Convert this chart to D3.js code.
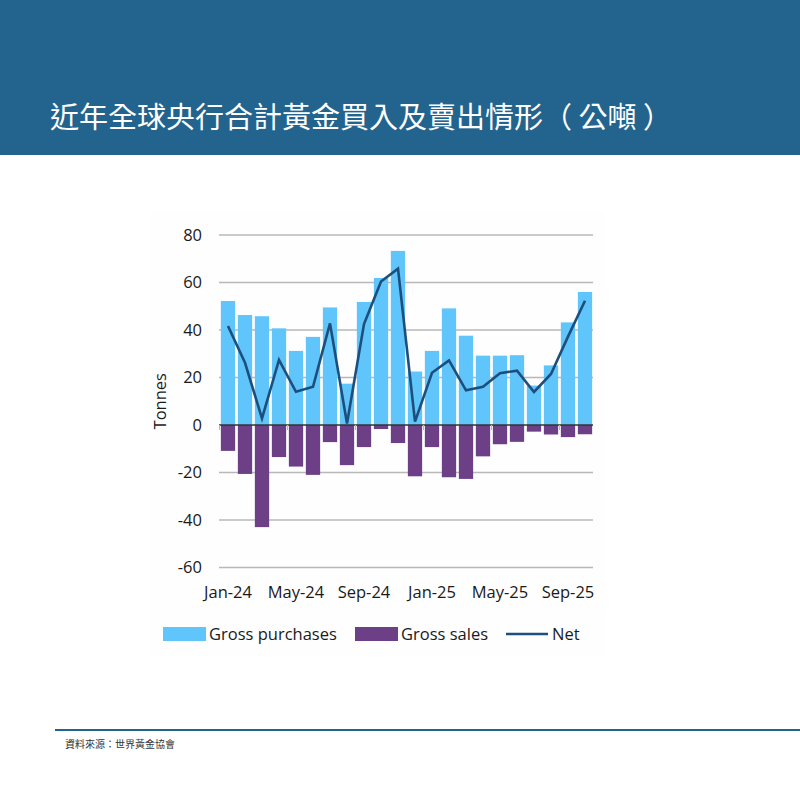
<!DOCTYPE html>
<html>
<head>
<meta charset="utf-8">
<script src="https://cdn.jsdelivr.net/npm/d3@7"></script>
<style>
  body { margin: 0; background: #fff; }
  svg { display: block; font-family: "Open Sans", "Noto Sans", sans-serif; }
</style>
</head>
<body>
<svg class="chart"></svg>
<script>
const width = 800;
const height = 800;

const months = [
  "Jan-24", "Feb-24", "Mar-24", "Apr-24", "May-24", "Jun-24", "Jul-24", "Aug-24",
  "Sep-24", "Oct-24", "Nov-24", "Dec-24", "Jan-25", "Feb-25", "Mar-25", "Apr-25",
  "May-25", "Jun-25", "Jul-25", "Aug-25", "Sep-25", "Oct-25"
];
const grossPurchases = [
  52.2, 46.3, 45.8, 40.7, 31.2, 37.1, 49.5, 17.4, 51.8, 61.9, 73.3,
  22.5, 31.2, 49.1, 37.6, 29.2, 29.2, 29.4, 16.6, 25.1, 43.2, 56.0
];
const grossSales = [
  -10.9, -20.6, -43.0, -13.5, -17.5, -21.0, -7.2, -16.9, -9.3, -1.7, -7.6,
  -21.6, -9.3, -22.0, -22.7, -13.2, -8.1, -7.1, -2.8, -4.0, -5.1, -3.9
];
const net = [
  41.7, 26.2, 2.8, 27.4, 14.0, 16.1, 42.8, 0.6, 42.5, 60.4, 65.8,
  1.4, 22.0, 27.2, 14.6, 16.1, 21.8, 22.9, 13.9, 21.5, 37.2, 52.3
];
const yTicks = [80, 60, 40, 20, 0, -20, -40, -60];
const xTickLabels = ["Jan-24", "May-24", "Sep-24", "Jan-25", "May-25", "Sep-25"];

const colors = { purchases: "#5fc5fb", sales: "#6d3f86", net: "#1d4f7c" };

const svg = d3.select(".chart").attr("width", width).attr("height", height);

// header band
svg.append("rect").attr("width", width).attr("height", 155).attr("fill", "#23648e");
svg.append("text")
  .attr("x", 50)
  .attr("y", 128)
  .attr("fill", "#fff")
  .attr("xml:space", "preserve")
  .style("white-space", "pre")
  .style("font-family", "'Noto Sans CJK TC', sans-serif")
  .style("font-size", "29px")
  .text("近年全球央行合計黃金買入及賣出情形（ 公噸 ）");

// faint chart panel
svg.append("rect")
  .attr("x", 150).attr("y", 212)
  .attr("width", 455).attr("height", 443)
  .attr("fill", "#fefefe");

const x = d3.scaleBand().domain(months).range([219.5, 593.5]).paddingInner(0.16).paddingOuter(0.08);
const y = d3.scaleLinear().domain([-60, 80]).range([567.5, 235]);

// gridlines
svg.append("g")
  .selectAll("line")
  .data(yTicks.filter((d) => d !== 0))
  .join("line")
  .attr("x1", 219).attr("x2", 593)
  .attr("y1", (d) => y(d)).attr("y2", (d) => y(d))
  .attr("stroke", "#b8b8b8")
  .attr("stroke-width", 1.5);

svg.append("g")
  .selectAll("text")
  .data(yTicks)
  .join("text")
  .attr("x", 202)
  .attr("y", (d) => y(d))
  .attr("dy", "0.35em")
  .attr("text-anchor", "end")
  .attr("fill", "#1a1a1a")
  .style("font-size", "16.5px")
  .text((d) => d);

svg.append("text")
  .attr("transform", `translate(166,${y(10)}) rotate(-90)`)
  .attr("text-anchor", "middle")
  .attr("fill", "#1a1a1a")
  .style("font-size", "16.5px")
  .text("Tonnes");

// bars
svg.append("g")
  .selectAll("rect")
  .data(months)
  .join("rect")
  .attr("x", (d) => x(d))
  .attr("width", x.bandwidth())
  .attr("y", (d, i) => y(grossPurchases[i]))
  .attr("height", (d, i) => y(0) - y(grossPurchases[i]))
  .attr("fill", colors.purchases);

svg.append("g")
  .selectAll("rect")
  .data(months)
  .join("rect")
  .attr("x", (d) => x(d))
  .attr("width", x.bandwidth())
  .attr("y", y(0))
  .attr("height", (d, i) => y(grossSales[i]) - y(0))
  .attr("fill", colors.sales);

// zero axis with ticks at every 4th boundary
svg.append("line")
  .attr("x1", 219).attr("x2", 593)
  .attr("y1", y(0)).attr("y2", y(0))
  .attr("stroke", "#333")
  .attr("stroke-width", 1.3);

const step = x.step();
svg.append("g")
  .selectAll("line")
  .data(d3.range(0, months.length + 1, 4))
  .join("line")
  .attr("x1", (i) => x(months[0]) - (step - x.bandwidth()) / 2 + i * step)
  .attr("x2", (i) => x(months[0]) - (step - x.bandwidth()) / 2 + i * step)
  .attr("y1", y(0)).attr("y2", y(0) + 5)
  .attr("stroke", "#b8b8b8")
  .attr("stroke-width", 1);

// net line
const line = d3.line()
  .x((d, i) => x(months[i]) + x.bandwidth() / 2)
  .y((d) => y(d));

svg.append("path")
  .datum(net)
  .attr("d", line)
  .attr("fill", "none")
  .attr("stroke", colors.net)
  .attr("stroke-width", 2.6)
  .attr("stroke-linejoin", "miter");

// x labels
svg.append("g")
  .selectAll("text")
  .data(xTickLabels)
  .join("text")
  .attr("x", (d) => x(d) + x.bandwidth() / 2)
  .attr("y", 598)
  .attr("text-anchor", "middle")
  .attr("fill", "#1a1a1a")
  .style("font-size", "16.5px")
  .text((d) => d);

// legend
const legend = svg.append("g").style("font-size", "16.5px").attr("fill", "#1a1a1a");
const legendItems = [
  { label: "Gross purchases", color: colors.purchases, type: "rect", x: 163 },
  { label: "Gross sales", color: colors.sales, type: "rect", x: 355 },
  { label: "Net", color: colors.net, type: "line", x: 506 }
];
legendItems.forEach((d) => {
  if (d.type === "rect") {
    legend.append("rect")
      .attr("x", d.x).attr("y", 627)
      .attr("width", 43).attr("height", 14)
      .attr("fill", d.color);
  } else {
    legend.append("line")
      .attr("x1", d.x).attr("x2", d.x + 42)
      .attr("y1", 634).attr("y2", 634)
      .attr("stroke", d.color)
      .attr("stroke-width", 2.6);
  }
  legend.append("text")
    .attr("x", d.x + 46)
    .attr("y", 634)
    .attr("dy", "0.35em")
    .text(d.label);
});

// footer
svg.append("line")
  .attr("x1", 55).attr("x2", 800)
  .attr("y1", 730).attr("y2", 730)
  .attr("stroke", "#23648e")
  .attr("stroke-width", 2);
svg.append("text")
  .attr("x", 65)
  .attr("y", 748)
  .attr("fill", "#333")
  .style("font-family", "'Noto Sans CJK TC', sans-serif")
  .style("font-size", "10px")
  .text("資料來源：世界黃金協會");
</script>
</body>
</html>
